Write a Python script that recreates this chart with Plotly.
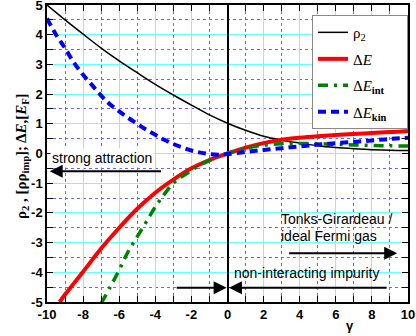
import plotly.graph_objects as go

# ---- data ----
rho2_x = [-10, -9, -8, -7, -6, -5, -4, -3, -2, -1, 0, 1, 2, 3, 4, 5, 6, 7, 8, 9, 10]
rho2_y = [5.0, 4.5, 4.02, 3.55, 3.12, 2.72, 2.33, 1.97, 1.63, 1.3, 1.02, 0.78, 0.58, 0.45, 0.35, 0.26, 0.2, 0.16, 0.13, 0.11, 0.1]

dE_x = [-9.3, -9, -8, -7, -6, -5, -4, -3, -2, -1, 0, 1, 2, 3, 4, 5, 6, 7, 8, 9, 10]
dE_y = [-5.0, -4.75, -3.98, -3.2, -2.5, -1.86, -1.32, -0.88, -0.5, -0.22, 0, 0.2, 0.35, 0.46, 0.53, 0.58, 0.62, 0.66, 0.69, 0.72, 0.76]

dEint_x = [-7, -6.5, -6, -5.5, -5, -4.5, -4, -3.5, -3, -2.5, -2, -1.5, -1, -0.5, 0, 1, 2, 3, 4, 5, 6, 7, 8, 9, 10]
dEint_y = [-5.05, -4.5, -3.92, -3.3, -2.8, -2.3, -1.8, -1.37, -1.0, -0.77, -0.57, -0.38, -0.23, -0.1, 0, 0.17, 0.28, 0.33, 0.34, 0.33, 0.31, 0.29, 0.27, 0.26, 0.25]

dEkin_x = [-10, -9.5, -9, -8.5, -8, -7.5, -7, -6.5, -6, -5.5, -5, -4.5, -4, -3.5, -3, -2.5, -2, -1.5, -1, -0.5, 0, 1, 2, 3, 4, 5, 6, 7, 8, 9, 10]
dEkin_y = [4.55, 4.0, 3.55, 3.05, 2.65, 2.3, 1.95, 1.65, 1.42, 1.2, 1.0, 0.8, 0.63, 0.46, 0.32, 0.2, 0.1, 0.03, -0.02, -0.04, -0.02, 0.05, 0.12, 0.18, 0.24, 0.3, 0.35, 0.39, 0.44, 0.49, 0.53]

x_ticks = [-10, -8, -6, -4, -2, 0, 2, 4, 6, 8, 10]
x_ticklabels = ["-10", "-8", "-6", "-4", "-2", "0", "2", "4", "6", "8", "10"]
y_ticks = [-5, -4, -3, -2, -1, 0, 1, 2, 3, 4, 5]
y_ticklabels = ["-5", "-4", "-3", "-2", "-1", "0", "1", "2", "3", "4", "5"]

fig = go.Figure()
fig.add_trace(go.Scatter(x=rho2_x, y=rho2_y, mode="lines", line=dict(color="black", width=1.5, shape="spline"),
                         name="ρ<sub>2</sub>", legendgroup="a"))
fig.add_trace(go.Scatter(x=dE_x, y=dE_y, mode="lines", line=dict(color="#ff0000", width=4, shape="spline"),
                         name="Δ<i>E</i>", legendgroup="b"))
fig.add_trace(go.Scatter(x=dEint_x, y=dEint_y, mode="lines",
                         line=dict(color="#008000", width=3.5, shape="spline", dash="10px,6px,3px,6px"),
                         name="Δ<i>E</i><sub><b>int</b></sub>", legendgroup="c"))
fig.add_trace(go.Scatter(x=dEkin_x, y=dEkin_y, mode="lines",
                         line=dict(color="#0000ff", width=4, shape="spline", dash="8px,5px"),
                         name="Δ<i>E</i><sub><b>kin</b></sub>&nbsp;&nbsp;&nbsp;&nbsp;", legendgroup="d"))

tickfont = dict(family="Liberation Sans, Arial", size=13, color="black", weight="bold")
fig.update_xaxes(range=[-10, 10], tickvals=x_ticks, ticktext=x_ticklabels, tickfont=tickfont, automargin=False,
                 ticklabeloverflow="allow",
                 showline=True, linecolor="black", linewidth=1.5, mirror="ticks",
                 ticks="inside", ticklen=6, tickcolor="black", tickwidth=1,
                 showgrid=True, gridcolor="#66ffff", gridwidth=1,
                 zeroline=True, zerolinecolor="black", zerolinewidth=1.5,
                 minor=dict(tickvals=list(range(-9, 10, 2)), ticks="inside", ticklen=6, tickcolor="black",
                            showgrid=True, gridcolor="#6666ff", griddash="dot", gridwidth=1))
fig.update_yaxes(range=[-5, 5], tickvals=y_ticks, ticktext=y_ticklabels, tickfont=tickfont, automargin=False,
                 ticklabeloverflow="allow",
                 showline=True, linecolor="black", linewidth=1.5, mirror="ticks",
                 ticks="inside", ticklen=6, tickcolor="black", tickwidth=1,
                 showgrid=True, gridcolor="#66ffff", gridwidth=1, zeroline=False,
                 minor=dict(dtick=0.5, ticks="inside", ticklen=6, tickcolor="black",
                            showgrid=True, gridcolor="#6666ff", griddash="dot", gridwidth=1))

txtfont = dict(family="Liberation Sans, Arial", size=14, color="black")
ann = []
ann.append(dict(x=-9.85, y=-0.15, xref="x", yref="y", text="strong attraction", showarrow=False,
                xanchor="left", font=txtfont, bgcolor="white"))
ann.append(dict(x=2.87, y=-2.2, xref="x", yref="y", text="Tonks-Girardeau /", showarrow=False,
                xanchor="left", font=txtfont))
ann.append(dict(x=2.87, y=-2.78, xref="x", yref="y", text="ideal Fermi gas", showarrow=False,
                xanchor="left", font=txtfont))
ann.append(dict(x=0.23, y=-4.03, xref="x", yref="y", text="non-interacting impurity", showarrow=False,
                xanchor="left", font=txtfont))
arrows = [((-9.85, -0.6), (-3.6, -0.6)), ((9.4, -3.36), (3.33, -3.36)),
          ((-0.05, -4.52), (-2.9, -4.52)), ((0.08, -4.52), (8.9, -4.52))]
for (tx, ty), (sx, sy) in arrows:
    ann.append(dict(x=tx, y=ty, ax=sx, ay=sy, xref="x", yref="y", axref="x", ayref="y", text="",
                    showarrow=True, arrowhead=2, arrowsize=1.3, arrowwidth=2, arrowcolor="black"))
# y-axis title and x-axis title as paper annotations
ann.append(dict(x=-0.1, y=0.71, xref="paper", yref="paper", textangle=-90, showarrow=False,
                text="<b>ρ<sub>2</sub> , [ρρ<sub>imp</sub>]; Δ<i>E</i>,[<i>E</i><sub>F</sub>]</b>",
                font=dict(family="Liberation Serif, Times New Roman", size=15, color="black")))
ann.append(dict(x=0.855, y=-0.112, xref="paper", yref="paper", showarrow=False, text="<b>γ</b>",
                font=dict(family="Liberation Sans, Arial", size=13, color="black")))
fig.update_layout(annotations=ann)

fig.update_layout(width=416, height=336, margin=dict(l=47, r=8, t=5, b=34, autoexpand=False),
                  plot_bgcolor="white", paper_bgcolor="white",
                  legend=dict(x=1, y=0.966, xanchor="right", yanchor="top", bgcolor="white",
                              bordercolor="#888888", borderwidth=1, tracegroupgap=4,
                              font=dict(family="Liberation Serif, Times New Roman", size=15, color="black")))
fig.write_html("out.html", config={"displayModeBar": False},
               post_script="document.body.style.margin='0';document.body.style.overflow='hidden';")
